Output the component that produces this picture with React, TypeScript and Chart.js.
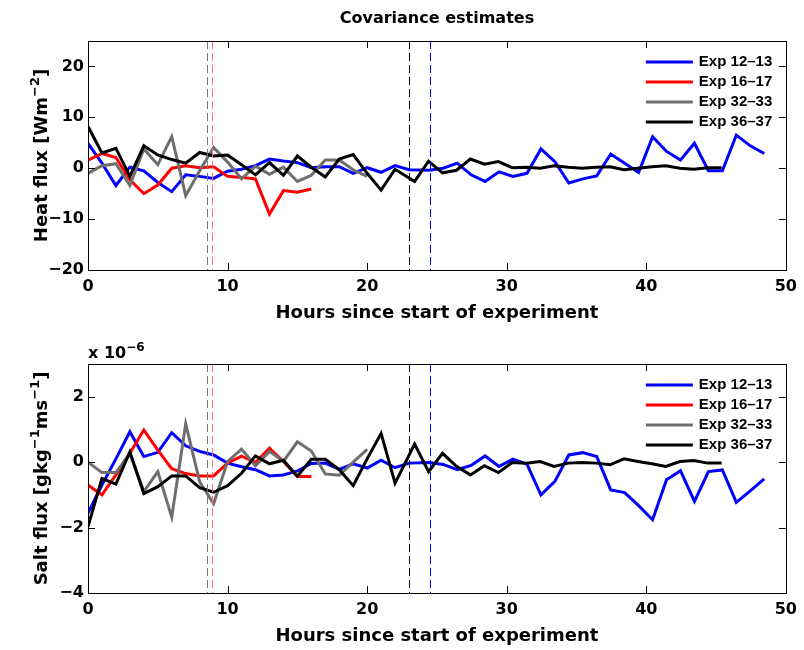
import React, { useEffect, useRef } from 'react';
import { Chart, registerables } from 'chart.js';
Chart.register(...registerables);

// ---------- data ----------
const xTickValues = [0, 10, 20, 30, 40, 50];
const heatTickValues = [-20, -10, 0, 10, 20];
const saltTickValues = [-4, -2, 0, 2];

const seriesLabels = ['Exp 12\u201313', 'Exp 16\u201317', 'Exp 32\u201333', 'Exp 36\u201337'];
const seriesColors = ['rgb(0,0,255)', 'rgb(255,0,0)', 'rgb(110,110,110)', 'rgb(0,0,0)'];

// hours since start of experiment for each series
const timesExp12 = [0, 1, 2, 3, 4, 5, 6, 7, 8, 9, 10, 11, 12, 13, 14, 15, 16, 17, 18, 19, 20, 21, 22, 23,
  24.45, 25.45, 26.45, 27.45, 28.45, 29.45, 30.45, 31.45, 32.45, 33.45, 34.45, 35.45, 36.45, 37.45, 38.45,
  39.45, 40.45, 41.45, 42.45, 43.45, 44.45, 45.45, 46.45, 47.45, 48.45];
const timesExp16 = [0, 1, 2, 3, 4, 5, 6, 7, 8, 9, 10, 11, 12, 13, 14, 15, 16];
const timesExp32 = [0, 1, 2, 3, 4, 5, 6, 7, 8, 9, 10, 11, 12, 13, 14, 15, 16, 17, 18, 19, 20];
const timesExp36 = [0, 1, 2, 3, 4, 5, 6, 7, 8, 9, 10, 11, 12, 13, 14, 15, 16, 17, 18, 19, 20, 21, 22,
  23.4, 24.4, 25.4, 26.4, 27.4, 28.4, 29.4, 30.4, 31.4, 32.4, 33.4, 34.4, 35.4, 36.4, 37.4, 38.4, 39.4,
  40.4, 41.4, 42.4, 43.4, 44.4, 45.4];

// heat flux [W m^-2]
const heatExp12 = [4.9, 1.0, -3.4, 0.2, -0.5, -2.8, -4.6, -1.3, -1.6, -2.0, -0.6, -0.2, 0.5, 1.8, 1.4, 1.1,
  0.1, 0.3, 0.3, -1.0, 0.1, -0.8, 0.5, -0.3, -0.4, 0.0, 1.0, -1.3, -2.6, -0.7, -1.6, -1.0, 3.8, 1.3, -2.9,
  -2.1, -1.5, 2.8, 1.0, -0.85, 6.2, 3.3, 1.6, 4.9, -0.5, -0.5, 6.5, 4.4, 2.9];
const heatExp16 = [1.6, 2.9, 2.1, -2.3, -5.0, -3.3, 0.0, 0.5, 0.1, 0.3, -1.6, -1.8, -2.1, -9.0, -4.4, -4.7, -4.1];
const heatExp32 = [-1.0, 0.5, 0.9, -3.4, 3.8, 0.7, 6.2, -5.4, -0.5, 4.1, 1.2, -2.1, 0.4, -1.2, 0.2, -2.6,
  -1.4, 1.6, 1.6, -0.3, -1.6];
const heatExp36 = [8.2, 3.0, 3.9, -1.6, 4.4, 2.6, 1.7, 1.0, 3.1, 2.4, 2.6, 0.7, -1.3, 1.1, -1.4, 2.4, 0.2,
  -1.7, 1.8, 2.7, -1.0, -4.3, -0.2, -2.6, 1.4, -0.9, -0.4, 1.8, 0.8, 1.3, 0.1, 0.2, 0.0, 0.5, 0.2, 0.0, 0.2,
  0.3, -0.3, 0.0, 0.3, 0.5, 0.0, -0.2, 0.1, 0.1];

// salt flux [x 10^-6 g kg^-1 m s^-1]
const saltExp12 = [-1.56, -0.7, 0.1, 0.93, 0.17, 0.3, 0.9, 0.5, 0.33, 0.22, -0.03, -0.14, -0.23, -0.42,
  -0.39, -0.27, -0.04, -0.03, -0.22, -0.05, -0.18, 0.06, -0.17, -0.03, -0.01, -0.07, -0.23, -0.1, 0.19,
  -0.13, 0.09, -0.06, -1.0, -0.59, 0.22, 0.29, 0.17, -0.85, -0.93, -1.33, -1.76, -0.54, -0.26, -1.2, -0.29,
  -0.24, -1.23, -0.88, -0.51];
const saltExp16 = [-0.7, -1.0, -0.39, 0.27, 0.98, 0.37, -0.2, -0.35, -0.42, -0.42, -0.03, 0.18, -0.01,
  0.43, 0.02, -0.44, -0.44];
const saltExp32 = [0.0, -0.32, -0.32, 0.27, -0.9, -0.29, -1.68, 1.17, -0.6, -1.27, 0.02, 0.4, -0.11, 0.33,
  0.02, 0.62, 0.34, -0.36, -0.4, 0.0, 0.39];
const saltExp36 = [-1.97, -0.5, -0.67, 0.31, -0.96, -0.75, -0.42, -0.42, -0.78, -0.92, -0.72, -0.34, 0.19,
  -0.05, 0.06, -0.43, 0.09, 0.09, -0.23, -0.72, 0.1, 0.88, -0.64, 0.55, -0.29, 0.27, -0.13, -0.39, -0.11,
  -0.32, -0.01, -0.03, 0.02, -0.13, -0.03, -0.01, -0.03, -0.08, 0.1, 0.02, -0.05, -0.13, 0.02, 0.05, -0.03,
  -0.03];

// vertical dashed marker lines (hours)
const markerHours = [8.53, 8.89, 23.0, 24.5];
const markerColors = ['rgb(120,120,120)', 'rgb(255,110,110)', 'rgb(0,0,0)', 'rgb(0,0,255)'];

// ---------- styling ----------
const FONT = '"DejaVu Sans", "Liberation Sans", Arial, sans-serif';
const LEGEND_FONT = '"Liberation Sans", Arial, sans-serif';
const W = 804;
const H = 325;

type Part = { t: string; sup?: boolean };

function drawRich(ctx: CanvasRenderingContext2D, parts: Part[], x: number, y: number, size: number,
  align: 'center' | 'left', rotate: boolean) {
  const mainFont = `bold ${size}px ${FONT}`;
  const supFont = `bold ${Math.round(size * 0.72)}px ${FONT}`;
  let total = 0;
  const widths = parts.map((p) => {
    ctx.font = p.sup ? supFont : mainFont;
    const w = ctx.measureText(p.t).width;
    total += w;
    return w;
  });
  ctx.save();
  ctx.translate(x, y);
  if (rotate) ctx.rotate(-Math.PI / 2);
  ctx.textAlign = 'left';
  ctx.textBaseline = 'alphabetic';
  ctx.fillStyle = '#000';
  let cx = align === 'center' ? -total / 2 : 0;
  parts.forEach((p, i) => {
    ctx.font = p.sup ? supFont : mainFont;
    ctx.fillText(p.t, cx, p.sup ? -size * 0.45 : 0);
    cx += widths[i];
  });
  ctx.restore();
}

type PanelSpec = {
  times: number[][];
  values: number[][];
  yMin: number;
  yMax: number;
  yTicks: number[];
  padTop: number;
  xAxisHeight: number;
  yLabel: Part[];
  title?: string;
  multiplier?: Part[];
};

function buildConfig(spec: PanelSpec): any {
  const datasets: any[] = [];
  spec.values.forEach((vals, i) => {
    datasets.push({
      label: seriesLabels[i],
      data: vals.map((v, j) => ({ x: spec.times[i][j], y: v })),
      borderColor: seriesColors[i],
      backgroundColor: seriesColors[i],
      borderWidth: 3,
      pointRadius: 0,
      tension: 0,
      fill: false,
      order: 4 - i,
    });
  });

  const framePlugin = {
    id: 'matlabFrame',
    afterDatasetsDraw(chart: any) {
      // vertical dashed marker lines, positioned through the x scale
      const { ctx, chartArea: a, scales } = chart;
      ctx.save();
      ctx.lineWidth = 1;
      ctx.setLineDash([8, 4]);
      markerHours.forEach((h, i) => {
        const px = Math.round(scales.x.getPixelForValue(h)) + 0.5;
        ctx.strokeStyle = markerColors[i];
        ctx.beginPath();
        ctx.moveTo(px, a.top);
        ctx.lineTo(px, a.bottom);
        ctx.stroke();
      });
      ctx.restore();
    },
    afterDraw(chart: any) {
      const { ctx, chartArea: a, scales } = chart;
      const xs = scales.x;
      const ys = scales.y;
      ctx.save();
      ctx.strokeStyle = '#000';
      ctx.lineWidth = 1;
      ctx.setLineDash([]);
      ctx.strokeRect(Math.round(a.left) + 0.5, Math.round(a.top) + 0.5,
        Math.round(a.right - a.left), Math.round(a.bottom - a.top));
      const TL = 7;
      ctx.beginPath();
      xTickValues.forEach((v) => {
        const px = Math.round(xs.getPixelForValue(v)) + 0.5;
        ctx.moveTo(px, a.bottom);
        ctx.lineTo(px, a.bottom - TL);
        ctx.moveTo(px, a.top);
        ctx.lineTo(px, a.top + TL);
      });
      spec.yTicks.forEach((v) => {
        const py = Math.round(ys.getPixelForValue(v)) + 0.5;
        ctx.moveTo(a.left, py);
        ctx.lineTo(a.left + TL, py);
        ctx.moveTo(a.right, py);
        ctx.lineTo(a.right - TL, py);
      });
      ctx.stroke();

      // legend (inside, upper right)
      ctx.font = `bold 15px ${LEGEND_FONT}`;
      ctx.textBaseline = 'middle';
      ctx.textAlign = 'left';
      seriesLabels.forEach((lab, i) => {
        const y = a.top + 21 + i * 20;
        ctx.strokeStyle = seriesColors[i];
        ctx.lineWidth = 3;
        ctx.beginPath();
        ctx.moveTo(a.right - 140, y);
        ctx.lineTo(a.right - 93, y);
        ctx.stroke();
        ctx.fillStyle = '#000';
        ctx.fillText(lab, a.right - 87, y);
      });

      // x label
      ctx.font = `bold 18px ${FONT}`;
      ctx.textAlign = 'center';
      ctx.textBaseline = 'alphabetic';
      ctx.fillStyle = '#000';
      ctx.fillText('Hours since start of experiment', (a.left + a.right) / 2, a.bottom + 48);

      // title
      if (spec.title) {
        ctx.font = `bold 16px ${FONT}`;
        ctx.fillText(spec.title, (a.left + a.right) / 2, a.top - 18);
      }
      ctx.restore();

      // y label
      drawRich(ctx, spec.yLabel, 47, (a.top + a.bottom) / 2, 18, 'center', true);
      if (spec.multiplier) {
        drawRich(ctx, spec.multiplier, a.left, a.top - 6, 16, 'left', false);
      }
    },
  };

  return {
    type: 'line',
    data: { datasets },
    options: {
      animation: false,
      responsive: false,
      devicePixelRatio: 1,
      layout: { padding: { top: spec.padTop, left: 0, right: 12, bottom: 0 } },
      plugins: { legend: { display: false }, tooltip: { enabled: false }, title: { display: false } },
      scales: {
        x: {
          type: 'linear',
          min: 0,
          max: 50,
          afterBuildTicks: (s: any) => { s.ticks = xTickValues.map((v) => ({ value: v })); },
          afterFit: (s: any) => { s.height = spec.xAxisHeight; },
          grid: { display: false, drawTicks: false },
          border: { display: false },
          ticks: { color: '#000', padding: 7, maxRotation: 0, autoSkip: false, font: { family: FONT, size: 16, weight: 'bold' } },
        },
        y: {
          type: 'linear',
          min: spec.yMin,
          max: spec.yMax,
          afterBuildTicks: (s: any) => { s.ticks = spec.yTicks.map((v) => ({ value: v })); },
          afterFit: (s: any) => { s.width = 88; },
          grid: { display: false, drawTicks: false },
          border: { display: false },
          ticks: {
            color: '#000',
            padding: 4,
            autoSkip: false,
            font: { family: FONT, size: 16, weight: 'bold' },
            callback: (v: any) => String(v).replace('-', '\u2212'),
          },
        },
      },
    },
    plugins: [framePlugin],
  };
}

function Panel({ spec, top }: { spec: PanelSpec; top: number }) {
  const ref = useRef<HTMLCanvasElement | null>(null);
  useEffect(() => {
    if (!ref.current) return;
    const chart = new Chart(ref.current, buildConfig(spec));
    return () => chart.destroy();
  }, []);
  return (
    <canvas
      ref={ref}
      width={W}
      height={H}
      style={{ position: 'absolute', left: 0, top, width: W, height: H, display: 'block' }}
    />
  );
}

const heatSpec: PanelSpec = {
  times: [timesExp12, timesExp16, timesExp32, timesExp36],
  values: [heatExp12, heatExp16, heatExp32, heatExp36],
  yMin: -20,
  yMax: 25,
  yTicks: heatTickValues,
  padTop: 41,
  xAxisHeight: 55,
  yLabel: [{ t: 'Heat flux [Wm' }, { t: '\u22122', sup: true }, { t: ']' }],
  title: 'Covariance estimates',
};

const saltSpec: PanelSpec = {
  times: [timesExp12, timesExp16, timesExp32, timesExp36],
  values: [saltExp12, saltExp16, saltExp32, saltExp36],
  yMin: -4,
  yMax: 3,
  yTicks: saltTickValues,
  padTop: 39,
  xAxisHeight: 57,
  yLabel: [{ t: 'Salt flux [gkg' }, { t: '\u22121', sup: true }, { t: 'ms' }, { t: '\u22121', sup: true }, { t: ']' }],
  multiplier: [{ t: 'x 10' }, { t: '\u22126', sup: true }],
};

export default function App() {
  return (
    <div style={{ position: 'absolute', left: 0, top: 0, width: W, height: 650, background: '#fff' }}>
      <Panel spec={heatSpec} top={0} />
      <Panel spec={saltSpec} top={325} />
    </div>
  );
}
